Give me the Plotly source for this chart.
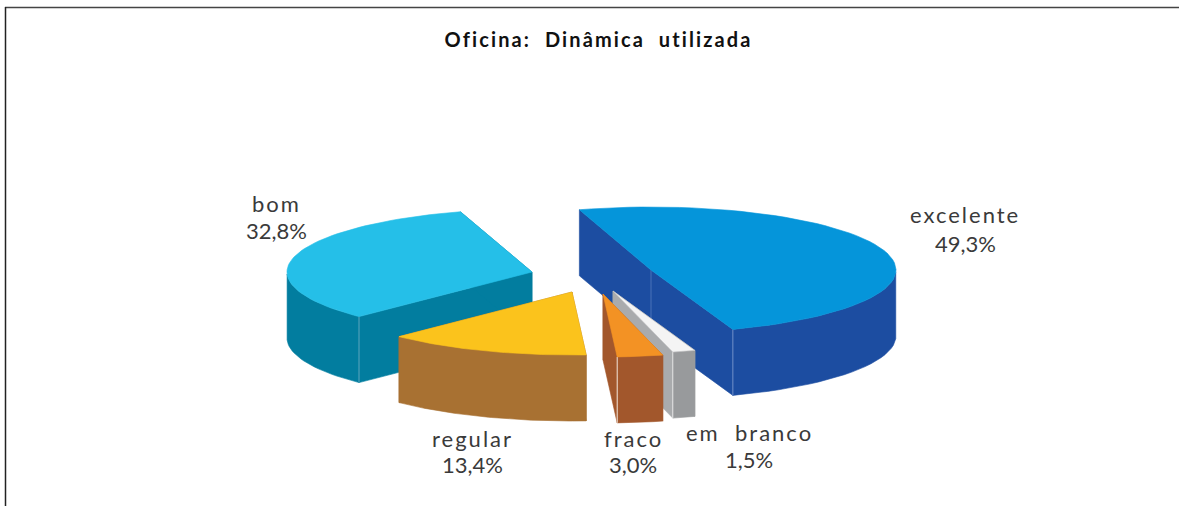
import math
import plotly.graph_objects as go

# ---- data ----
categories = ["excelente", "em branco", "fraco", "regular", "bom"]
values = [49.3, 1.5, 3.0, 13.4, 32.8]
value_labels = ["49,3%", "1,5%", "3,0%", "13,4%", "32,8%"]
title_text = "Oficina: Dinâmica utilizada"

# ---- styles ----
top_colors = ["#0595DA", "#F4F4F4", "#F39224", "#FBC31C", "#25BFE8"]
side_colors = ["#1C4DA1", "#989A9C", "#A2572C", "#A87132", "#027D9F"]
cut_colors = ["#1C4DA1", "#A9ABAD", "#A2572C", "#A87132", "#027D9F"]
top_edges = [None, "#C4C5C6", None, None, None]

# ---- pie geometry (pixel-like axis units) ----
W, H = 1179, 506
RX, RY, DEPTH = 245, 63, 66
START_DEG = 107
apex = [(651, 270), (613, 291), (603, 294), (572, 292), (532, 272)]
name_pos = [(965, 214), (749, 432), (633, 438), (472, 438), (276, 203)]
value_pos = [(965, 243), (749, 459), (633, 464), (472, 464), (276, 230)]
label_size = 22


def wedge_points(cx, cy, a0, a1, n=60):
    pts = []
    for i in range(n + 1):
        a = math.radians(a0 + (a1 - a0) * i / n)
        pts.append((cx + RX * math.cos(a), cy - RY * math.sin(a)))
    return pts


def poly(points, color, line=None):
    xs = [p[0] for p in points] + [points[0][0]]
    ys = [p[1] for p in points] + [points[0][1]]
    return go.Scatter(
        x=xs, y=ys, mode="lines", fill="toself", fillcolor=color,
        line=dict(color=line or color, width=0.6), hoverinfo="skip", showlegend=False,
    )


def seam(p, color):
    return go.Scatter(x=[p[0], p[0]], y=[p[1], p[1] + DEPTH], mode="lines",
                      line=dict(color=color, width=1), hoverinfo="skip", showlegend=False)


def down(p):
    return (p[0], p[1] + DEPTH)


fig = go.Figure()
total = sum(values)
angles = []
a = START_DEG
for v in values:
    b = a - 360 * v / total
    angles.append((a, b))
    a = b

# back-to-front painting order
for i in [4, 3, 0, 1, 2]:
    a0, a1 = angles[i]
    cx, cy = apex[i]
    arc = wedge_points(cx, cy, a0, a1)
    c = (cx, cy)
    for end in (arc[0], arc[-1]):
        fig.add_trace(poly([c, end, down(end), down(c)], cut_colors[i]))
    front = [p for t, p in enumerate(arc)
             if math.sin(math.radians(a0 + (a1 - a0) * t / (len(arc) - 1))) <= 0.0]
    if len(front) > 1:
        fig.add_trace(poly(front + [down(p) for p in reversed(front)], side_colors[i]))
    # slice-specific seams on the corner that faces the viewer
    if i == 0:
        fig.add_trace(seam(c, "#4A72B8"))
        fig.add_trace(seam(arc[-1], "#6F8FC8"))
    elif i == 4:
        fig.add_trace(seam(arc[0], "#5FA6BE"))
    elif i == 1:
        fig.add_trace(seam(arc[-1], "#E8E8E8"))
    elif i == 2:
        fig.add_trace(seam(arc[-1], "#F2E6DC"))
    fig.add_trace(poly([c] + arc, top_colors[i], top_edges[i]))

# slice labels
for i, name in enumerate(categories):
    fig.add_annotation(x=name_pos[i][0], y=name_pos[i][1], text=name.replace(" ", "&nbsp; "),
                       showarrow=False,
                       font=dict(family="Lato, sans-serif", size=label_size, color="#3A3A3A"))
    fig.add_annotation(x=value_pos[i][0], y=value_pos[i][1], text=value_labels[i],
                       showarrow=False,
                       font=dict(family="Lato, sans-serif", size=label_size, color="#3A3A3A"))

fig.add_annotation(x=598, y=39, text=f"<b>{title_text.replace(' ', '&nbsp; ')}</b>",
                   showarrow=False, font=dict(family="Lato, sans-serif", size=20, color="#111111"))

fig.update_layout(
    width=W, height=H, margin=dict(l=0, r=0, t=0, b=0),
    paper_bgcolor="white", plot_bgcolor="white", showlegend=False,
    xaxis=dict(range=[0, W], visible=False, fixedrange=True),
    yaxis=dict(range=[H, 0], visible=False, fixedrange=True),
    shapes=[
        dict(type="line", x0=5, y0=7.5, x1=W, y1=7.5, line=dict(color="#444444", width=1.5)),
        dict(type="line", x0=5.5, y0=7, x1=5.5, y1=H, line=dict(color="#222222", width=1.5)),
    ],
)

post = """
document.documentElement.style.overflow = 'hidden';
document.body.style.margin = '0';
document.querySelectorAll('.annotation-text').forEach(function (t) {
  var s = t.textContent;
  var sp = s.indexOf('%') >= 0 ? '0px' : (s.indexOf('Oficina') >= 0 ? '2.1px' : '2px');
  t.style.letterSpacing = sp;
});
"""
fig.write_html("out.html", config={"displayModeBar": False}, post_script=post)
